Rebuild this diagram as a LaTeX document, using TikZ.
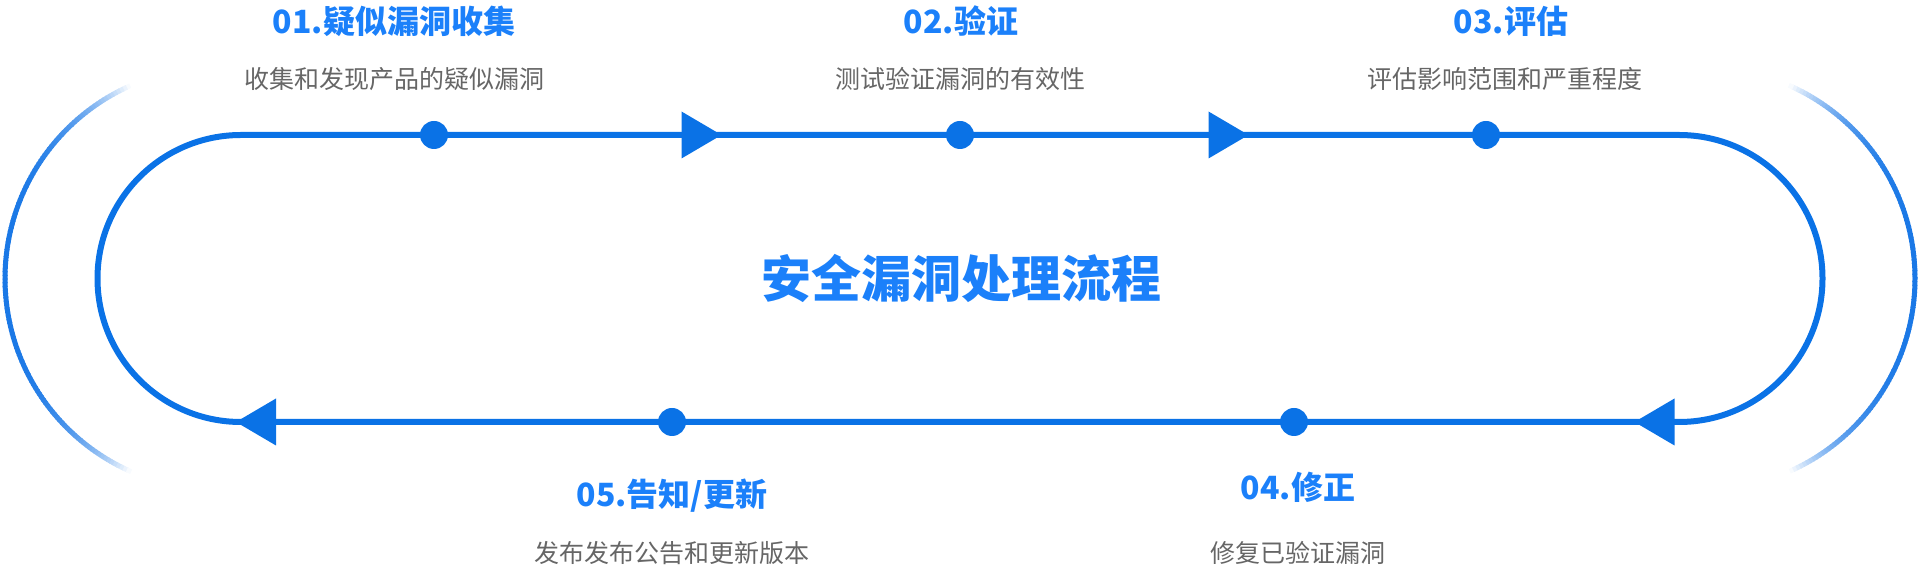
\documentclass[tikz,border=0pt]{standalone}
\usepackage{fontspec}
\setmainfont{Noto Sans CJK SC}
\usepackage{tikz}
\definecolor{flowblue}{HTML}{0A72E6}
\definecolor{titleblue}{HTML}{1B80FA}
\definecolor{textgray}{HTML}{666666}
\definecolor{arcblue}{HTML}{1A78E6}
\tikzset{
  steptitle/.style={text=titleblue, inner sep=0pt, font=\fontsize{32}{38}\selectfont\bfseries},
  stepdesc/.style={text=textgray, inner sep=0pt, font=\fontsize{25}{30}\selectfont},
  stepdot/.style={circle, fill=flowblue, inner sep=0pt, minimum size=28pt},
}

\begin{document}
\begin{tikzpicture}[x=1pt, y=1pt]
  \useasboundingbox (0,0) rectangle (1920,572);
  % Outer fading arcs
  \coordinate (lc) at (216,293.5);
  \coordinate (rc) at (1704,293.5);
  \foreach \a in {114,...,245}{
    \pgfmathsetmacro\t{(\a+0.5-180)/66}
    \pgfmathsetmacro\pct{100*(1-\t*\t*\t*\t)}
    \draw[arcblue!\pct!white, line width=5pt] ([shift={(\a:211)}]lc) arc[start angle=\a, end angle=\a+1.3, radius=211];
  }
  \foreach \a in {-66,...,65}{
    \pgfmathsetmacro\t{(\a+0.5)/66}
    \pgfmathsetmacro\pct{100*(1-\t*\t*\t*\t)}
    \draw[arcblue!\pct!white, line width=5pt] ([shift={(\a:211)}]rc) arc[start angle=\a, end angle=\a+1.3, radius=211];
  }
  % Main loop
  \coordinate (tl) at (241,437);
  \coordinate (tr) at (1679,437);
  \coordinate (bl) at (241,150);
  \draw[flowblue, line width=6pt] (tl) -- (tr) arc[start angle=90, end angle=-90, radius=143.5]
    -- (bl) arc[start angle=270, end angle=90, radius=143.5] -- cycle;
  % Direction marks
  \foreach \x/\y/\d in {701.5/437/1, 1228.5/437/1, 1654.5/150/-1, 256/150/-1}{
    \fill[flowblue] ({\x-20*\d},{\y+23.5}) -- ({\x+20*\d},\y) -- ({\x-20*\d},{\y-23.5}) -- cycle;
  }
  % Step dots
  \node[stepdot] (d1) at (434,437) {};
  \node[stepdot] (d2) at (960,437) {};
  \node[stepdot] (d3) at (1486,437) {};
  \node[stepdot] (d4) at (1294,150) {};
  \node[stepdot] (d5) at (672,150) {};
  % Centre title
  \node[text=titleblue, inner sep=0pt, font=\fontsize{50}{60}\selectfont\bfseries] (title) at (961,293.5) {安全漏洞处理流程};
  % Step labels
  \node[steptitle] (t1) at (394,551) {01.疑似漏洞收集};
  \node[stepdesc] (s1) at (394,493) {收集和发现产品的疑似漏洞};
  \node[steptitle] (t2) at (961,551) {02.验证};
  \node[stepdesc] (s2) at (960,493) {测试验证漏洞的有效性};
  \node[steptitle] (t3) at (1511,551) {03.评估};
  \node[stepdesc] (s3) at (1505,493) {评估影响范围和严重程度};
  \node[steptitle] (t4) at (1298,85) {04.修正};
  \node[stepdesc] (s4) at (1298,19) {修复已验证漏洞};
  \node[steptitle] (t5) at (672,76.5) {05.告知/更新};
  \node[stepdesc] (s5) at (672,19) {发布发布公告和更新版本};
\end{tikzpicture}
\end{document}
